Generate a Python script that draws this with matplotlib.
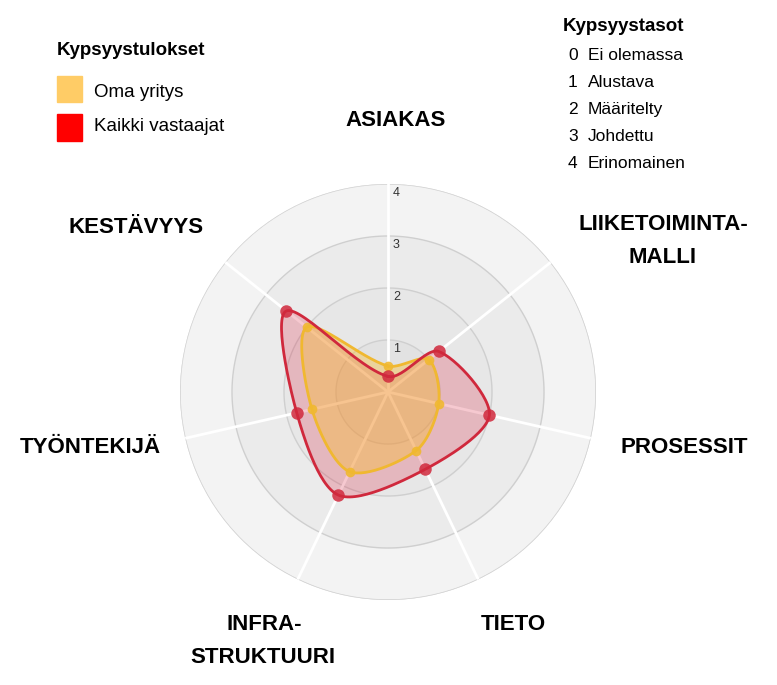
import numpy as np
import matplotlib
matplotlib.use('Agg')
import matplotlib.pyplot as plt

# data
categories = ['ASIAKAS', 'LIIKETOIMINTA-\nMALLI', 'PROSESSIT', 'TIETO',
              'INFRA-\nSTRUKTUURI', 'TYÖNTEKIJÄ', 'KESTÄVYYS']
kaikki = [0.3, 1.25, 2.0, 1.65, 2.2, 1.8, 2.5]   # Kaikki vastaajat
oma = [0.5, 1.0, 1.0, 1.25, 1.7, 1.5, 2.0]       # Oma yritys
rticks = [1, 2, 3, 4]
levels = ['Ei olemassa', 'Alustava', 'Määritelty', 'Johdettu', 'Erinomainen']

plt.rcParams['font.family'] = ['Liberation Sans', 'DejaVu Sans']

W, H = 777, 685
fig = plt.figure(figsize=(W / 100, H / 100), dpi=100)
fig.patch.set_facecolor('white')

# polar axes: centre (388, 392) px from top-left, radius 208 px
cx, cy, R = 388, 392, 208
ax = fig.add_axes([(cx - R) / W, (H - cy - R) / H, 2 * R / W, 2 * R / H],
                  projection='polar')
ax.set_theta_zero_location('N')
ax.set_theta_direction(-1)
ax.set_ylim(0, 4)
ax.axis('off')

n = len(categories)
theta = np.arange(n) * 2 * np.pi / n


def smooth(values, tension=0.3, steps=30):
    # closed spline like chart.js, built in x/y and handed back as theta/r
    v = np.asarray(values, float)
    px = v * np.sin(theta)
    py = v * np.cos(theta)
    pts = np.column_stack([px, py])
    m = len(pts)
    c_prev, c_next = [], []
    for i in range(m):
        p0, p1, p2 = pts[i - 1], pts[i], pts[(i + 1) % m]
        d01 = np.hypot(*(p1 - p0))
        d12 = np.hypot(*(p2 - p1))
        s01 = d01 / (d01 + d12)
        s12 = d12 / (d01 + d12)
        c_prev.append(p1 - tension * s01 * (p2 - p0))
        c_next.append(p1 + tension * s12 * (p2 - p0))
    t = np.linspace(0, 1, steps, endpoint=False)[:, None]
    out = []
    for i in range(m):
        a, b = pts[i], pts[(i + 1) % m]
        c1, c2 = c_next[i], c_prev[(i + 1) % m]
        seg = ((1 - t) ** 3) * a + 3 * ((1 - t) ** 2) * t * c1 + 3 * (1 - t) * t ** 2 * c2 + t ** 3 * b
        out.append(seg)
    out = np.vstack(out + [pts[:1]])
    th = np.unwrap(np.arctan2(out[:, 0], out[:, 1]))
    rr = np.hypot(out[:, 0], out[:, 1])
    return th, rr


# background bands
full = np.linspace(0, 2 * np.pi, 400)
band_cols = ['#e2e2e2', '#e7e7e7', '#ebebeb', '#f3f3f3']
for i in range(4, 0, -1):
    ax.fill_between(full, 0, i, color=band_cols[i - 1], zorder=0, lw=0)
for r in rticks:
    ax.plot(full, np.full_like(full, r), color='#cfcfcf', lw=1, zorder=1)
ax.plot(full, np.full_like(full, 4.02), color='#d8d8d8', lw=1.5, zorder=1)

# spokes
for th in theta:
    ax.plot([th, th], [0, 4], color='white', lw=2, zorder=2)

# tick labels along the top spoke
for r in rticks:
    ax.annotate(str(r), xy=(0, r), xytext=(5, -9), textcoords='offset pixels',
                fontsize=9, color='#333333', ha='left', va='center', zorder=6)

red = '#d0283c'
yellow = '#f0b830'

th_r, r_r = smooth(kaikki)
th_y, r_y = smooth(oma)
ax.fill(th_r, r_r, color=(0.86, 0.12, 0.24, 0.24), lw=0, zorder=3)
ax.fill(th_y, r_y, color=(0.98, 0.74, 0.16, 0.38), lw=0, zorder=3)
ax.plot(th_y, r_y, color=yellow, lw=2, zorder=4)
ax.plot(th_r, r_r, color=red, lw=2, zorder=5)
ax.plot(theta, oma, 'o', color=yellow, ms=7, alpha=0.9, zorder=4, mec='none')
ax.plot(theta, kaikki, 'o', color=red, ms=9, alpha=0.85, zorder=5, mec='none')


def ftext(x, y, s, **kw):
    fig.text(x / W, 1 - y / H, s, va='baseline', **kw)


# axis labels (x centre, baseline y)
lab_pos = [
    [(396, 126, 'ASIAKAS')],
    [(663, 230, 'LIIKETOIMINTA-'), (663, 263, 'MALLI')],
    [(684, 453, 'PROSESSIT')],
    [(513, 630, 'TIETO')],
    [(264, 630, 'INFRA-'), (263, 663, 'STRUKTUURI')],
    [(90, 453, 'TYÖNTEKIJÄ')],
    [(136, 233, 'KESTÄVYYS')],
]
for parts in lab_pos:
    for x, y, s in parts:
        ftext(x, y, s, ha='center', fontsize=16, fontweight='bold', color='black')

# left legend
ftext(57, 55, 'Kypsyystulokset', ha='left', fontsize=13.5, fontweight='bold')
fig.patches.append(plt.Rectangle((57 / W, 1 - 102 / H), 25 / W, 26 / H,
                                 transform=fig.transFigure, color='#ffcc66'))
fig.patches.append(plt.Rectangle((57 / W, 1 - 141 / H), 25 / W, 27 / H,
                                 transform=fig.transFigure, color='#ff0000'))
ftext(94, 97, 'Oma yritys', ha='left', fontsize=13.5)
ftext(94, 131, 'Kaikki vastaajat', ha='left', fontsize=13.5)

# right legend
ftext(563, 31, 'Kypsyystasot', ha='left', fontsize=13.5, fontweight='bold')
for i, name in enumerate(levels):
    yb = 60 + 27 * i
    ftext(568, yb, str(i), ha='left', fontsize=12.5)
    ftext(588, yb, name, ha='left', fontsize=12.5)

fig.savefig('out.png', dpi=100, facecolor='white')
